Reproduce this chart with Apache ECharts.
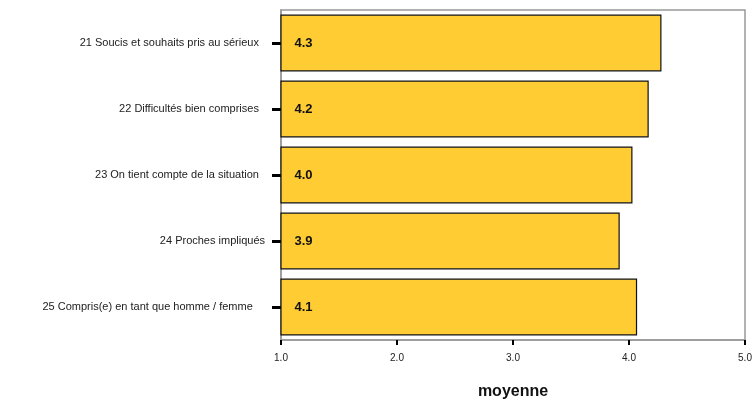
<!DOCTYPE html>
<html>
<head>
<meta charset="utf-8">
<script src="https://cdn.jsdelivr.net/npm/echarts@6/dist/echarts.min.js"></script>
<style>html,body{margin:0;padding:0;background:#fff;}#c{width:754px;height:402px;}</style>
</head>
<body>
<div id="c"></div>
<script>
var categories = [
  "21 Soucis et souhaits pris au sérieux  ",
  "22 Difficultés bien comprises  ",
  "23 On tient compte de la situation  ",
  "24 Proches impliqués",
  "25 Compris(e) en tant que homme / femme    "
];
var values = [4.28, 4.17, 4.03, 3.92, 4.07];
var xTicks = [1.0, 2.0, 3.0, 4.0, 5.0];
var axisName = "moyenne";

var chart = echarts.init(document.getElementById('c'), null, {renderer: 'canvas'});
chart.setOption({
  animation: false,
  grid: {left: 281, right: 9, top: 10, bottom: 62, outerBoundsMode: 'none', containLabel: false,
    show: true, borderColor: '#999', borderWidth: 1.5, backgroundColor: 'transparent'},
  xAxis: {
    type: 'value', min: xTicks[0], max: xTicks[xTicks.length - 1], interval: 1,
    splitLine: {show: false},
    axisLine: {show: true, lineStyle: {color: '#999', width: 1.5}},
    axisTick: {show: true, length: 5, lineStyle: {color: '#000', width: 2}},
    axisLabel: {formatter: function (v) { return v.toFixed(1); }, fontSize: 10, color: '#222', margin: 13, fontFamily: 'Liberation Sans, Arial, sans-serif'},
    name: axisName, nameLocation: 'middle', nameGap: 44,
    nameTextStyle: {fontSize: 16, fontWeight: 'bold', color: '#111', fontFamily: 'Liberation Sans, Arial, sans-serif'}
  },
  yAxis: {
    type: 'category', data: categories, inverse: true,
    axisLine: {show: true, lineStyle: {color: '#999', width: 1.5}},
    axisTick: {show: true, alignWithLabel: true, length: 9, lineStyle: {color: '#000', width: 3}},
    axisLabel: {fontSize: 11, color: '#222', margin: 16, fontFamily: 'Liberation Sans, Arial, sans-serif'},
    splitLine: {show: false}
  },
  series: [{
    type: 'bar', data: values, barCategoryGap: '14%',
    itemStyle: {color: '#FFCC33', borderColor: '#111', borderWidth: 1.2},
    label: {show: true, position: 'insideLeft', distance: 14, fontSize: 13, fontWeight: 'bold', color: '#111',
      fontFamily: 'Liberation Sans, Arial, sans-serif',
      formatter: function (p) { return p.value.toFixed(1); }}
  }]
});
</script>
</body>
</html>
